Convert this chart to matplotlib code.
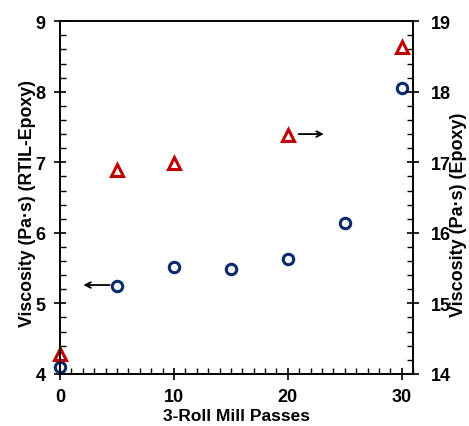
import matplotlib
matplotlib.use("Agg")
from matplotlib import pyplot as plt
from matplotlib.ticker import MultipleLocator

plt.rcParams['font.family'] = ['Liberation Sans', 'DejaVu Sans']
plt.rcParams['font.weight'] = 'bold'

# data
passes_blend = [0, 5, 10, 15, 20, 25, 30]
visc_blend = [4.10, 5.25, 5.52, 5.49, 5.63, 6.14, 8.05]   # RTIL-Epoxy, left axis

passes_epoxy = [0, 5, 10, 20, 30]
visc_epoxy = [14.28, 16.89, 16.99, 17.39, 18.64]          # Epoxy, right axis

navy = '#0B2A6B'
red = '#C00000'

fig = plt.figure(figsize=(4.69, 4.27), dpi=100)
ax = fig.add_axes([0.128, 0.122, 0.753, 0.826])
ax2 = ax.twinx()

ax.plot(passes_blend, visc_blend, linestyle='none', marker='o', markersize=7.5,
        markerfacecolor='none', markeredgecolor=navy, markeredgewidth=2.2, clip_on=False)
ax2.plot(passes_epoxy, visc_epoxy, linestyle='none', marker='^', markersize=8,
         markerfacecolor='none', markeredgecolor=red, markeredgewidth=2.2, clip_on=False)

ax.set_xlim(0, 31)
ax.set_ylim(4, 9)
ax2.set_ylim(14, 19)

ax.xaxis.set_major_locator(MultipleLocator(10))
ax.xaxis.set_minor_locator(MultipleLocator(1))
ax.yaxis.set_major_locator(MultipleLocator(1))
ax.yaxis.set_minor_locator(MultipleLocator(0.2))
ax2.yaxis.set_major_locator(MultipleLocator(1))
ax2.yaxis.set_minor_locator(MultipleLocator(0.2))

ax.tick_params(axis='both', which='major', direction='inout', length=9, width=1.2,
               labelsize=13, pad=6)
ax.tick_params(axis='both', which='minor', direction='in', length=4, width=1.0)
ax.tick_params(axis='y', which='both', right=False)
ax.tick_params(axis='x', which='both', top=False)
ax2.tick_params(axis='y', which='major', direction='inout', length=9, width=1.2,
                labelsize=13, pad=8)
ax2.tick_params(axis='y', which='minor', direction='in', length=4, width=1.0)

for a in (ax, ax2):
    for s in a.spines.values():
        s.set_linewidth(1.2)

ax.set_xlabel('3-Roll Mill Passes', fontsize=12.5, fontweight='bold', labelpad=2)
ax.set_ylabel('Viscosity (Pa·s) (RTIL-Epoxy)', fontsize=12.8, fontweight='bold')
ax2.set_ylabel('Viscosity (Pa·s) (Epoxy)', fontsize=13, fontweight='bold')
ax.yaxis.set_label_coords(-0.068, 0.485)
ax2.yaxis.set_label_coords(1.105, 0.455)

# arrows pointing to the matching axis
ax.annotate('', xy=(1.8, 5.26), xytext=(4.6, 5.26),
            arrowprops=dict(arrowstyle='->', color='black', lw=1.3))
ax2.annotate('', xy=(23.4, 17.40), xytext=(20.7, 17.40),
             arrowprops=dict(arrowstyle='->', color='black', lw=1.3))

plt.savefig('out.png', dpi=100)
plt.close()
